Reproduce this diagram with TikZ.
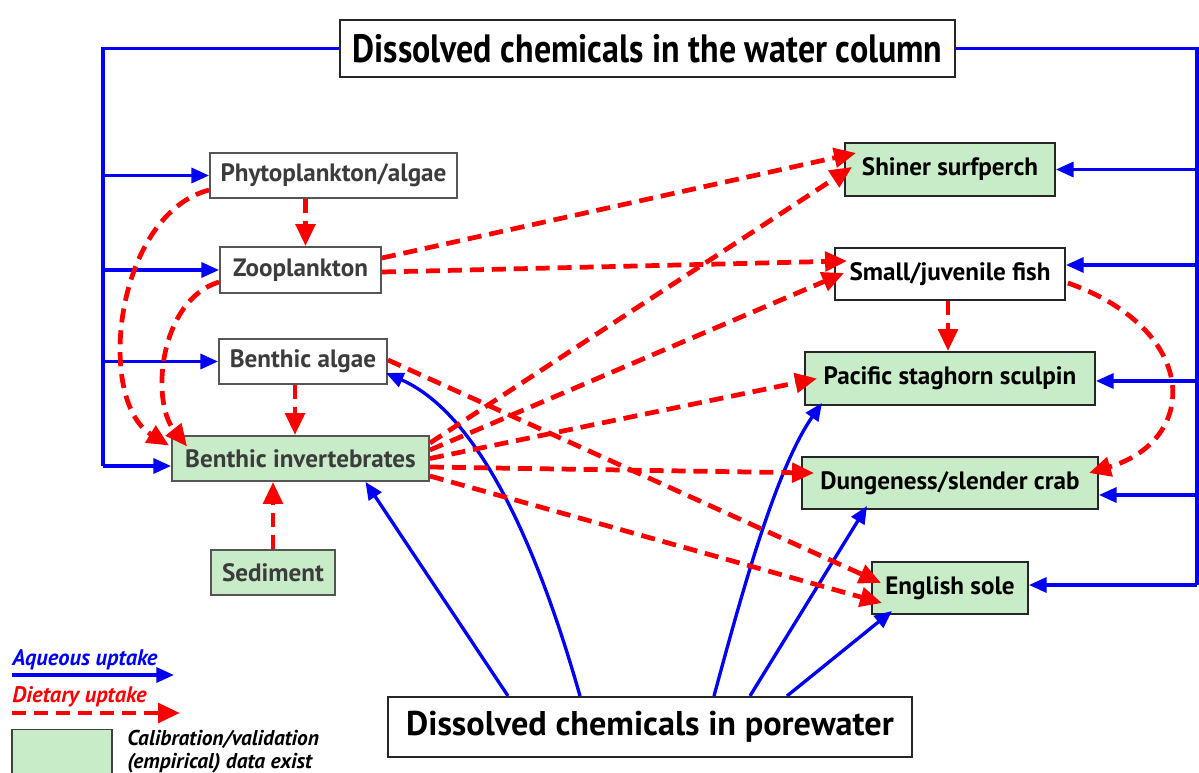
\documentclass[tikz,border=0pt]{standalone}
\usepackage{fontspec}
\setmainfont{PT Sans}
\usetikzlibrary{arrows.meta}
\definecolor{fillg}{RGB}{200,236,200}
\definecolor{edgegray}{RGB}{85,85,85}
\definecolor{txtgray}{RGB}{60,60,60}
\definecolor{aqblue}{RGB}{0,0,245}
\definecolor{dtred}{RGB}{250,0,0}
\begin{document}
\begin{tikzpicture}[x=0.02cm,y=-0.02cm,
  lbl/.style={draw=edgegray, line width=1.1pt, inner sep=0pt, font=\bfseries\fontsize{14.3}{16}\selectfont},
  lft/.style={lbl, text=txtgray},
  rgt/.style={lbl, draw=black!85, text=black},
  grn/.style={fill=fillg},
  aq/.style={aqblue, line width=1.9pt, -{Triangle[length=10pt,width=8.5pt]}},
  bus/.style={aqblue, line width=1.9pt},
  dt/.style={dtred, line width=2.7pt, dash pattern=on 8pt off 4.5pt, -{Triangle[length=12.5pt,width=11pt]}},
]
\useasboundingbox (0,0) rectangle (1199,773);

% top and bottom sources
\node[rgt, line width=1.2pt, minimum width=12.3cm, minimum height=1.14cm] (title) at (647.5,48.5)
  {\scalebox{0.86}[1]{\fontsize{22.5}{24}\selectfont\bfseries Dissolved chemicals in the water column}};
\node[rgt, line width=1.2pt, minimum width=10.48cm, minimum height=1.2cm, font=\bfseries\fontsize{19.5}{21}\selectfont] (pore) at (650,727) {Dissolved chemicals in porewater};

% left column
\node[lft, minimum width=4.94cm, minimum height=0.9cm] (phyto) at (333.5,175.5) {Phytoplankton/algae};
\node[lft, minimum width=3.22cm, minimum height=0.92cm] (zoo) at (300.5,270) {Zooplankton};
\node[lft, minimum width=3.36cm, minimum height=0.9cm] (balg) at (303,361.5) {Benthic algae};
\node[lft, grn, minimum width=5.14cm, minimum height=0.9cm] (binv) at (300.5,458.5) {Benthic invertebrates};
\node[lft, grn, minimum width=2.48cm, minimum height=0.9cm] (sed) at (273,572.5) {Sediment};

% right column
\node[rgt, grn, minimum width=4.2cm, minimum height=1.06cm] (shiner) at (950,169.5) {Shiner surfperch};
\node[rgt, minimum width=4.6cm, minimum height=1.04cm] (sfish) at (950,274) {Small/juvenile fish};
\node[rgt, grn, minimum width=5.8cm, minimum height=1.06cm] (sculp) at (950,378.5) {Pacific staghorn sculpin};
\node[rgt, grn, minimum width=5.92cm, minimum height=1.04cm] (crab) at (950,483) {Dungeness/slender crab};
\node[rgt, grn, minimum width=3.12cm, minimum height=1.04cm] (sole) at (950,588) {English sole};

% water-column buses
\coordinate (lt) at (103,48.5);
\coordinate (lb) at (103,466);
\coordinate (rt) at (1197,48.5);
\coordinate (r2) at (1197,265);
\coordinate (r3) at (1197,381);
\coordinate (r4) at (1197,495);
\coordinate (rb) at (1197,585);
\draw[bus] (title.west) -- (lt) -- (lb);
\draw[bus] (title.east) -- (rt) -- (rb);
\draw[aq] (lt |- phyto.west) -- (phyto.west);
\draw[aq] (lt |- zoo.west) -- (zoo.west);
\draw[aq] (lt |- balg.west) -- (balg.west);
\draw[aq] (lb) -- (lb -| binv.west);
\draw[aq] (rt |- shiner.east) -- (shiner.east);
\draw[aq] (r2) -- (r2 -| sfish.east);
\draw[aq] (r3) -- (r3 -| sculp.east);
\draw[aq] (r4) -- (r4 -| crab.east);
\draw[aq] (rb) -- (rb -| sole.east);

% porewater uptake
\draw[aq] ([shift={(-142,0)}]pore.north) -- ([shift={(65,0)}]binv.south);
\draw[aq] ([shift={(-70,0)}]pore.north) .. controls (530,520) and (470,410) .. ([shift={(-2,11.5)}]balg.east);
\draw[aq] ([shift={(64,0)}]pore.north) .. controls (740,600) and (775,470) .. ([shift={(-128,-3)}]sculp.south);
\draw[aq] ([shift={(100,0)}]pore.north) -- ([shift={(-83,-4)}]crab.south);
\draw[aq] ([shift={(137,0)}]pore.north) -- ([shift={(-58,-4)}]sole.south);

% dietary uptake, left part
\draw[dt] ([shift={(-28,0)}]phyto.south) -- ([shift={(5,0)}]zoo.north);
\draw[dt] ([shift={(0,14.5)}]phyto.west) .. controls (115,215) and (95,400) .. ([shift={(-2,-13)}]binv.west);
\draw[dt] ([shift={(0,12)}]zoo.west) .. controls (160,300) and (150,400) .. ([shift={(16,-12)}]binv.west);
\draw[dt] ([shift={(-8,0)}]balg.south) -- ([shift={(-5.5,0)}]binv.north);
\draw[dt] (sed.north) -- ([shift={(-27.5,0)}]binv.south);

% dietary uptake, to fish and crabs
\draw[dt] ([shift={(0,-12)}]zoo.east) -- ([shift={(12,-16.5)}]shiner.west);
\draw[dt] ([shift={(0,2)}]zoo.east) -- ([shift={(13,-13)}]sfish.west);
\draw[dt] ([shift={(0,-15.5)}]binv.east) -- ([shift={(8,-2.5)}]shiner.west);
\draw[dt] ([shift={(0,-8.5)}]binv.east) -- ([shift={(10,-1)}]sfish.west);
\draw[dt] (binv.east) -- ([shift={(13,0)}]sculp.west);
\draw[dt] ([shift={(0,8.5)}]binv.east) -- ([shift={(13,-10)}]crab.west);
\draw[dt] ([shift={(0,17.5)}]binv.east) -- ([shift={(11,15)}]sole.west);
\draw[dt] ([shift={(0,-1.5)}]balg.east) -- ([shift={(10,-5)}]sole.west);
\draw[dt] ([shift={(-2,0)}]sfish.south) -- ([shift={(-2,0)}]sculp.north);
\draw[dt] ([shift={(2,9)}]sfish.east) .. controls (1200,330) and (1200,440) .. ([shift={(-10,-10)}]crab.east);

% legend
\node[anchor=west, inner sep=0pt, text=aqblue, font=\bfseries\itshape\fontsize{12.8}{14}\selectfont] (legaq) at (12,660) {Aqueous uptake};
\coordinate (aqa) at (12,675);
\coordinate (aqb) at (174,675);
\draw[aq] (aqa) -- (aqb);
\node[anchor=west, inner sep=0pt, text=dtred, font=\bfseries\itshape\fontsize{12.8}{14}\selectfont] (legdt) at (12,697) {Dietary uptake};
\coordinate (dta) at (12,713);
\coordinate (dtb) at (180,713);
\draw[dt] (dta) -- (dtb);
\node[lbl, grn, draw=black!75, minimum width=2cm, minimum height=0.9cm] (legbox) at (62,752) {};
\node[anchor=west, inner sep=0pt, align=left, font=\bfseries\itshape\fontsize{12.2}{13}\selectfont] (legtxt) at (127,752) {Calibration/validation\\(empirical) data exist};
\end{tikzpicture}
\end{document}
